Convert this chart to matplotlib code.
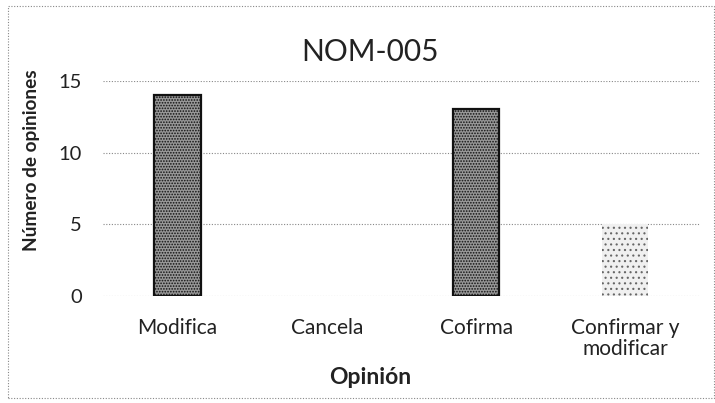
import matplotlib
matplotlib.use('Agg')
import matplotlib.pyplot as plt
from matplotlib.patches import Rectangle

plt.rcParams['font.family'] = ['Lato', 'DejaVu Sans']
plt.rcParams['hatch.linewidth'] = 0.8

categorias = ['Modifica', 'Cancela', 'Cofirma', 'Confirmar y\nmodificar']
opiniones = [14, 0, 13, 5]

fig = plt.figure(figsize=(7.15, 4.03), dpi=100)
ax = fig.add_axes([0.144, 0.2655, 0.835, 0.534])

x = range(len(categorias))
bars = ax.bar(x, opiniones, width=0.31, color='#989898', edgecolor='#111111',
              linewidth=1.6, hatch='......', zorder=3)
# last bar is a lighter stipple with no dark outline
bars[3].set_facecolor('#f0f0f0')
bars[3].set_edgecolor('#666666')
bars[3].set_linewidth(0)
bars[3].set_hatch('...')
for b, v in zip(bars, opiniones):
    if v == 0:
        b.set_linewidth(0)

ax.set_ylim(0, 15)
ax.set_xlim(-0.5, len(categorias) - 0.5)
ax.set_yticks([0, 5, 10, 15])
ax.yaxis.grid(True, linestyle=(0, (1, 1.5)), color='#888888', linewidth=0.8, zorder=0)
for s in ax.spines.values():
    s.set_visible(False)
ax.tick_params(axis='both', length=0, labelsize=14.5, colors='#222222')
ax.tick_params(axis='x', pad=16)
ax.tick_params(axis='y', pad=15)
ax.set_xticks(list(x))
ax.set_xticklabels(categorias, fontsize=15, linespacing=1.05)

ax.set_title('NOM-005', fontsize=21.5, color='#222222', x=0.447, pad=14)
ax.set_xlabel('Opinión', fontsize=16.5, fontweight='bold', color='#222222')
ax.xaxis.set_label_coords(0.447, -0.33)
ax.set_ylabel('Número de opiniones', fontsize=13.7, fontweight='bold', color='#222222')
ax.yaxis.set_label_coords(-0.106, 0.633)

# dotted frame round the chart
fig.patches.append(Rectangle((0.011, 0.012), 0.987, 0.974, transform=fig.transFigure,
                             fill=False, edgecolor='#888888', linewidth=0.8,
                             linestyle=(0, (1, 1.5))))

fig.savefig('out.png', dpi=100)
